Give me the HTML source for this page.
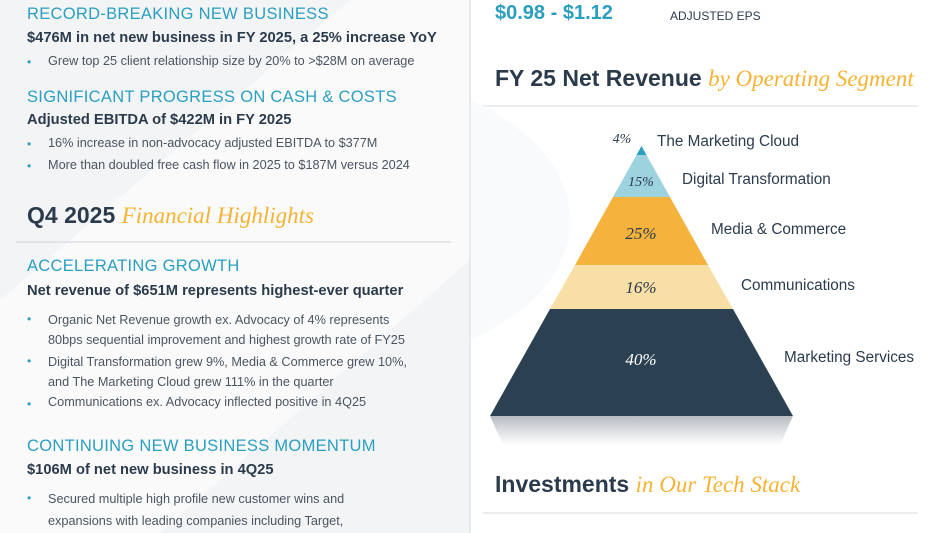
<!DOCTYPE html>
<html><head><style>
body{margin:0;width:950px;height:533px;overflow:hidden;background:#fff;font-family:"Liberation Sans",sans-serif;position:relative}
.a{position:absolute;white-space:nowrap}
.h{color:#2a9fc0;font-size:16.5px;letter-spacing:.3px}
.b{color:#2b3b4c;font-size:14.7px;font-weight:bold}
.l{color:#4a5560;font-size:12.7px}
.dot{color:#2a9fc0;position:absolute;left:27px;font-size:12px}
.t{color:#2b3b4c;font-size:23px;font-weight:bold}
.s{font-family:"Liberation Serif",serif;font-style:italic;font-weight:normal;color:#f5b335}
</style></head><body>
<svg class="a" style="left:0;top:0" width="950" height="533">
<rect x="0" y="0" width="470" height="533" fill="#f3f4f6"/>
<polygon points="350,0 470,0 470,260 160,533 0,533 0,300" fill="#fafafb"/>
<path d="M470,100 Q575,150 570,230 Q560,300 470,340 Z" fill="#f9fafb"/>
<line x1="470" y1="0" x2="470" y2="533" stroke="#e2e4e7" stroke-width="1.5"/>
<line x1="16" y1="242" x2="451" y2="242" stroke="#cfd3d7"/>
<line x1="483" y1="106" x2="918" y2="106" stroke="#d8dbde"/>
<line x1="483" y1="513" x2="918" y2="513" stroke="#d8dbde"/>
<defs><linearGradient id="g" x1="0" y1="0" x2="0" y2="1"><stop offset="0" stop-color="#b8bdc3"/><stop offset="1" stop-color="#fff"/></linearGradient></defs>
<polygon points="490,416 793,416 780,445 503,445" fill="url(#g)"/>
<polygon points="641.5,146 646.5,155 636.5,155" fill="#2a9fc0"/>
<polygon points="636.5,155 646.5,155 670,197 613,197" fill="#9dd2df"/>
<polygon points="613,197 670,197 708,265 575,265" fill="#f5b33e"/>
<polygon points="575,265 708,265 733,309 550,309" fill="#f8dfa6"/>
<polygon points="550,309 733,309 793,416 490,416" fill="#2b4152"/>
<g font-family="Liberation Serif,serif" font-style="italic" text-anchor="middle">
<text x="622" y="143" font-size="14" fill="#2b3b4c">4%</text>
<text x="641" y="186" font-size="14" fill="#2b3b4c">15%</text>
<text x="641" y="239" font-size="17" fill="#2b3b4c">25%</text>
<text x="641" y="293" font-size="17" fill="#2b3b4c">16%</text>
<text x="641" y="365" font-size="17" fill="#fff">40%</text>
</g>
<g font-family="Liberation Sans,sans-serif" font-size="15.3" fill="#2b3b4c">
<text x="657" y="146">The Marketing Cloud</text>
<text x="682" y="184">Digital Transformation</text>
<text x="711" y="234">Media &amp; Commerce</text>
<text x="741" y="290">Communications</text>
<text x="784" y="362">Marketing Services</text>
</g>
</svg>
<div class="a h" style="left:27px;top:5px">RECORD-BREAKING NEW BUSINESS</div>
<div class="a b" style="left:27px;top:30px">$476M in net new business in FY 2025, a 25% increase YoY</div>
<div class="a l" style="left:48px;top:54px">Grew top 25 client relationship size by 20% to &gt;$28M on average</div><span class="dot" style="top:55px">•</span>
<div class="a h" style="left:27px;top:88px">SIGNIFICANT PROGRESS ON CASH &amp; COSTS</div>
<div class="a b" style="left:27px;top:112px">Adjusted EBITDA of $422M in FY 2025</div>
<div class="a l" style="left:48px;top:136px">16% increase in non-advocacy adjusted EBITDA to $377M</div><span class="dot" style="top:137px">•</span>
<div class="a l" style="left:48px;top:158px">More than doubled free cash flow in 2025 to $187M versus 2024</div><span class="dot" style="top:159px">•</span>
<div class="a t" style="left:27px;top:202px">Q4 2025 <span class="s">Financial Highlights</span></div>
<div class="a h" style="left:27px;top:257px">ACCELERATING GROWTH</div>
<div class="a b" style="left:27px;top:283px">Net revenue of $651M represents highest-ever quarter</div>
<div class="a l" style="left:48px;top:310px;line-height:20px">Organic Net Revenue growth ex. Advocacy of 4% represents<br>80bps sequential improvement and highest growth rate of FY25</div><span class="dot" style="top:312px">•</span>
<div class="a l" style="left:48px;top:352px;line-height:20px">Digital Transformation grew 9%, Media &amp; Commerce grew 10%,<br>and The Marketing Cloud grew 111% in the quarter</div><span class="dot" style="top:354px">•</span>
<div class="a l" style="left:48px;top:395px">Communications ex. Advocacy inflected positive in 4Q25</div><span class="dot" style="top:397px">•</span>
<div class="a h" style="left:27px;top:437px">CONTINUING NEW BUSINESS MOMENTUM</div>
<div class="a b" style="left:27px;top:462px">$106M of net new business in 4Q25</div>
<div class="a l" style="left:48px;top:488px;line-height:22px">Secured multiple high profile new customer wins and<br>expansions with leading companies including Target,</div><span class="dot" style="top:491px">•</span>
<div class="a" style="left:495px;top:2px;color:#2a9fc0;font-size:20px;font-weight:bold">$0.98 - $1.12</div>
<div class="a" style="left:670px;top:9px;color:#2b3b4c;font-size:12px">ADJUSTED EPS</div>
<div class="a t" style="left:495px;top:65px">FY 25 Net Revenue <span class="s">by Operating Segment</span></div>
<div class="a t" style="left:495px;top:471px">Investments <span class="s">in Our Tech Stack</span></div>
</body></html>
